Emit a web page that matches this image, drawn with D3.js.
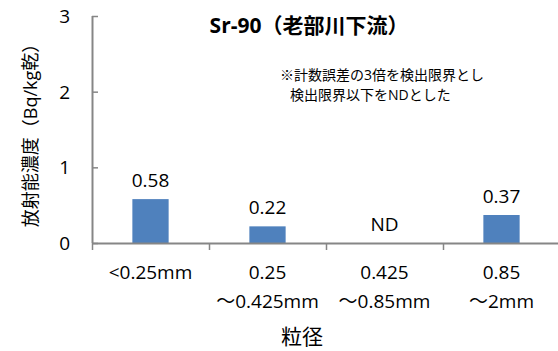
<!DOCTYPE html>
<html>
<head>
<meta charset="utf-8">
<script src="https://cdn.jsdelivr.net/npm/d3@7"></script>
<style>
  html, body { margin: 0; padding: 0; background: #fff; }
  svg { display: block; }
  text { font-family: "Open Sans", "Noto Sans CJK JP", sans-serif; fill: #000; }
</style>
</head>
<body>
<svg id="chart" width="558" height="351"></svg>
<script>
// Sr-90 activity by particle size (ND = below detection limit)
const categories = [["<0.25mm"], ["0.25", "～0.425mm"], ["0.425", "～0.85mm"], ["0.85", "～2mm"]];
const values = [0.58, 0.22, 0, 0.37];
const valueLabels = ["0.58", "0.22", "ND", "0.37"];
const yTicks = [0, 1, 2, 3];
const titleText = "Sr-90（老部川下流）";
const noteLines = ["※計数誤差の3倍を検出限界とし", "検出限界以下をNDとした"];
const yTitle = "放射能濃度（Bq/kg乾）";
const xTitle = "粒径";

const svg = d3.select("#chart");
const plotLeft = 92, plotRight = 560, plotTop = 16, plotBottom = 243;
const axisColor = "#868686";

const x = d3.scaleBand().domain(d3.range(categories.length)).range([plotLeft, plotRight]).padding(0);
const y = d3.scaleLinear().domain([0, 3]).range([plotBottom, plotTop]);
const barW = x.bandwidth() * 0.31;

// bars
svg.append("g").selectAll("rect").data(values).join("rect")
  .attr("x", (d, i) => x(i) + (x.bandwidth() - barW) / 2)
  .attr("y", d => y(d))
  .attr("width", barW)
  .attr("height", d => y(0) - y(d))
  .attr("fill", "#4F81BD");

// value labels
svg.append("g").selectAll("text").data(values).join("text")
  .attr("x", (d, i) => x(i) + x.bandwidth() / 2)
  .attr("y", d => y(d) - 12)
  .attr("text-anchor", "middle")
  .attr("font-size", 19)
  .text((d, i) => valueLabels[i]);

// y axis: inner ticks, labels on the left
const yAxis = svg.append("g").attr("transform", `translate(${plotLeft},0)`)
  .call(d3.axisRight(y).tickValues(yTicks).tickSize(6).tickFormat(""));
yAxis.select(".domain").attr("d", `M0.5,${plotTop}V${plotBottom}`).attr("stroke", axisColor).attr("stroke-width", 2);
yAxis.selectAll(".tick line").attr("stroke", axisColor).attr("stroke-width", 1.5);
svg.append("g").selectAll("text").data(yTicks).join("text")
  .attr("x", 70)
  .attr("y", d => y(d))
  .attr("dy", "0.36em")
  .attr("text-anchor", "end")
  .attr("font-size", 19)
  .text(d => d);

// x axis with boundary ticks
const xb = svg.append("g").attr("transform", `translate(0,${plotBottom})`);
xb.append("line").attr("x1", plotLeft).attr("x2", plotRight).attr("y1", 0.5).attr("y2", 0.5)
  .attr("stroke", axisColor).attr("stroke-width", 2);
xb.selectAll("line.tk").data(d3.range(categories.length + 1)).join("line")
  .attr("class", "tk")
  .attr("x1", i => (i < categories.length ? x(i) : plotRight) + 0.5)
  .attr("x2", i => (i < categories.length ? x(i) : plotRight) + 0.5)
  .attr("y1", 0).attr("y2", 7)
  .attr("stroke", axisColor).attr("stroke-width", 1.5);

// category labels
const catG = svg.append("g").selectAll("text").data(categories).join("text")
  .attr("text-anchor", "middle")
  .attr("font-size", 19);
catG.selectAll("tspan").data((d, i) => d.map(s => ({ s, i }))).join("tspan")
  .attr("x", d => x(d.i) + x.bandwidth() / 2)
  .attr("y", (d, j) => 279 + j * 29)
  .text(d => d.s);

// title
svg.append("text")
  .attr("x", 309).attr("y", 33)
  .attr("text-anchor", "middle")
  .attr("font-size", 21)
  .attr("font-weight", "bold")
  .text(titleText);

// note
svg.append("g").selectAll("text").data(noteLines).join("text")
  .attr("x", (d, i) => i === 0 ? 280 : 290)
  .attr("y", (d, i) => 80 + i * 20)
  .attr("font-size", 14)
  .text(d => d);

// axis titles
svg.append("text")
  .attr("transform", "translate(37,131) rotate(-90)")
  .attr("text-anchor", "middle")
  .attr("font-size", 18)
  .text(yTitle);
svg.append("text")
  .attr("x", 302).attr("y", 344)
  .attr("text-anchor", "middle")
  .attr("font-size", 21)
  .text(xTitle);
</script>
</body>
</html>
